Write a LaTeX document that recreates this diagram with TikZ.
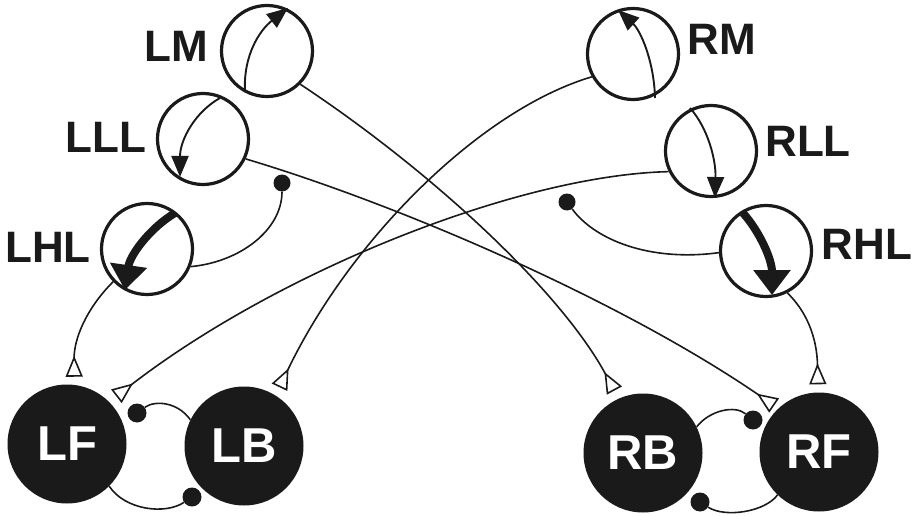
\documentclass[tikz,border=0pt]{standalone}
\usepackage{fontspec}
\setmainfont{Liberation Sans}
\usetikzlibrary{arrows.meta}
\definecolor{ink}{RGB}{26,26,26}
\begin{document}
\begin{tikzpicture}[x=1pt,y=-1pt,
  sensor/.style={circle,draw=ink,line width=3.2pt,minimum size=91pt,inner sep=0pt},
  motor/.style={circle,fill=ink,minimum size=119pt,inner sep=0pt,text=white,font=\fontsize{49}{49}\selectfont\bfseries},
  lab/.style={anchor=base,inner sep=0pt,text=ink,font=\fontsize{44}{44}\selectfont\bfseries},
  conn/.style={draw=ink,line width=1.6pt},
  exc/.style={conn,-{Triangle[open,reversed,length=21pt,width=17pt]}},
  dot/.style={circle,fill=ink,minimum size=#1,inner sep=0pt},
  dot/.default=19pt,
  turnthin/.style={draw=ink,line width=1.9pt,-{Triangle[length=21pt,width=17pt]}},
  turnthick/.style={draw=ink,line width=8pt,-{Triangle[length=25pt,width=36pt]}},
]
\useasboundingbox (0,0) rectangle (916,516);

% sensor circles
\node[sensor] (LM)  at (267,51)  {};
\node[sensor] (LLL) at (203,139) {};
\node[sensor] (LHL) at (147,249) {};
\node[sensor] (RM)  at (633,54)  {};
\node[sensor] (RLL) at (711,151) {};
\node[sensor] (RHL) at (766,251) {};

% labels
\node[lab] (tLM)  at (176,62)  {LM};
\node[lab] (tLLL) at (106,153) {LLL};
\node[lab] (tLHL) at (48,262)  {LHL};
\node[lab] (tRM)  at (722,55)  {RM};
\node[lab] (tRLL) at (808,157) {RLL};
\node[lab] (tRHL) at (867,259) {RHL};

% motor neurons
\node[motor] (LF) at (67,444)  {LF};
\node[motor] (LB) at (244,446) {LB};
\node[motor] (RB) at (643,453) {RB};
\node[motor] (RF) at (819,452) {RF};

% inhibitory dots
\node[dot=17pt] (dL)  at (282,183) {};
\node[dot=17pt] (dR)  at (567,202) {};
\node[dot] (dLF) at (137,413) {};
\node[dot] (dLB) at (192,497) {};
\node[dot] (dRF) at (753,420) {};
\node[dot] (dRB) at (700,502) {};

% turning arrows inside sensors
\draw[turnthin] (245,92) .. controls (243,55) and (260,30) .. (288,8);
\draw[turnthin] (220,98) .. controls (195,112) and (180,140) .. (180,177);
\draw[turnthick] (175,213) .. controls (150,228) and (130,255) .. (125,290);
\draw[turnthin] (655,98) .. controls (654,60) and (640,30) .. (618,10);
\draw[turnthin] (690,108) .. controls (708,128) and (716,160) .. (715,198);
\draw[turnthick] (743,213) .. controls (760,232) and (772,260) .. (772,295);

% excitatory connectors
\draw[exc,shorten >=9pt] (LM.-45) .. controls (430,170) and (560,290) .. (RB.114);
\draw[exc,shorten >=9pt] (RM.209) .. controls (480,110) and (350,240) .. (LB.58);
\draw[exc,shorten >=5pt] (LLL.-25) .. controls (400,205) and (620,300) .. (RF.133);
\draw[exc,shorten >=9pt] (RLL.206) .. controls (520,175) and (280,270) .. (LF.45);
\draw[exc,shorten >=8pt] (LHL.224) .. controls (85,310) and (74,340) .. (LF.83);
\draw[exc,shorten >=8pt] (RHL.-63) .. controls (805,310) and (817,335) .. (RF.91);

% inhibitory connectors
\draw[conn] (LHL.-22) .. controls (240,262) and (282,230) .. (dL);
\draw[conn] (RHL.182) .. controls (650,262) and (595,240) .. (dR);
\draw[conn] (LB.154) .. controls (178,402) and (155,400) .. (dLF);
\draw[conn] (LF.-45) .. controls (125,510) and (165,515) .. (dLB);
\draw[conn] (RB.26) .. controls (710,410) and (735,405) .. (dRF);
\draw[conn] (RF.226) .. controls (765,512) and (725,518) .. (dRB);
\end{tikzpicture}
\end{document}
